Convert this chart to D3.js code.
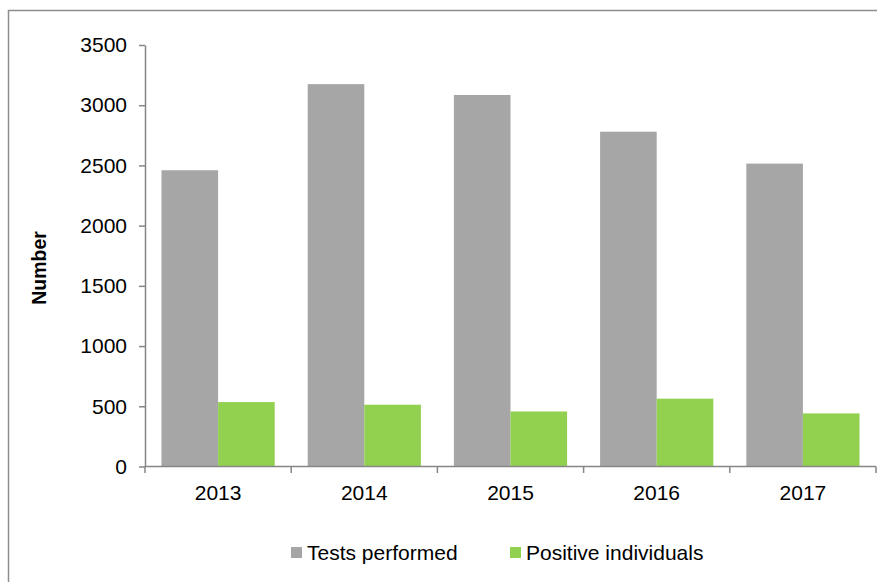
<!DOCTYPE html>
<html>
<head>
<meta charset="utf-8">
<script src="https://cdn.jsdelivr.net/npm/d3@7"></script>
<style>
  html, body { margin: 0; padding: 0; background: #fff; }
  svg { display: block; font-family: "Liberation Sans", Arial, sans-serif; }
</style>
</head>
<body>
<svg id="chart" width="877" height="582"></svg>
<script>
const years = ["2013", "2014", "2015", "2016", "2017"];
const seriesNames = ["Tests performed", "Positive individuals"];
const testsPerformed = [2460, 3175, 3085, 2780, 2515];
const positiveIndividuals = [535, 513, 457, 563, 441];
const yTicks = [0, 500, 1000, 1500, 2000, 2500, 3000, 3500];
const colors = ["#A6A6A6", "#92D050"];

const svg = d3.select("#chart");
const axisColor = "#868686";

// outer border
svg.append("rect")
  .attr("x", 8.5).attr("y", 10.5)
  .attr("width", 900).attr("height", 600)
  .attr("fill", "none").attr("stroke", "#8e8e8e").attr("stroke-width", 1.5);

const plotLeft = 145, plotRight = 876, plotTop = 45, plotBottom = 466.5;

const y = d3.scaleLinear().domain([0, 3500]).range([plotBottom, plotTop]);
const x = d3.scaleBand().domain(years).range([plotLeft, plotRight])
  .paddingInner(0.2257).paddingOuter(0.1128);
const xs = d3.scaleBand().domain(seriesNames).range([0, x.bandwidth()]);

const data = years.map((yr, i) => ({ yr, vals: [testsPerformed[i], positiveIndividuals[i]] }));

const g = svg.append("g");
g.selectAll("g.cat").data(data).join("g")
  .attr("class", "cat")
  .attr("transform", d => `translate(${x(d.yr)},0)`)
  .selectAll("rect").data(d => d.vals.map((v, j) => ({ v, s: seriesNames[j], j })))
  .join("rect")
  .attr("x", d => xs(d.s))
  .attr("y", d => y(d.v))
  .attr("width", xs.bandwidth())
  .attr("height", d => plotBottom - y(d.v))
  .attr("fill", d => colors[d.j]);

// Y axis
const yAxis = svg.append("g")
  .attr("transform", `translate(${plotLeft},0)`)
  .call(d3.axisLeft(y).tickValues(yTicks).tickSize(6).tickPadding(12).tickSizeOuter(0).tickFormat(d3.format("d")));
yAxis.select(".domain").attr("stroke", axisColor).attr("stroke-width", 1.5);
yAxis.selectAll(".tick line").attr("stroke", axisColor).attr("stroke-width", 1.5);
yAxis.selectAll(".tick text").attr("font-size", "21px").attr("fill", "#000")
  .attr("font-family", "'Liberation Sans', Arial, sans-serif");

// X axis: line with ticks at category boundaries
const step = x.step();
const boundaries = d3.range(years.length + 1).map(i => x(years[0]) - x.paddingOuter() * step + i * step);
svg.append("line")
  .attr("x1", plotLeft).attr("x2", plotRight).attr("y1", plotBottom).attr("y2", plotBottom)
  .attr("stroke", axisColor).attr("stroke-width", 1.5);
svg.selectAll("line.xtick").data(boundaries).join("line")
  .attr("class", "xtick")
  .attr("x1", d => d).attr("x2", d => d)
  .attr("y1", plotBottom).attr("y2", plotBottom + 6.5)
  .attr("stroke", axisColor).attr("stroke-width", 1.5);
svg.selectAll("text.xlab").data(years).join("text")
  .attr("class", "xlab")
  .attr("x", d => x(d) + x.bandwidth() / 2)
  .attr("y", 500)
  .attr("text-anchor", "middle")
  .attr("font-size", "21px")
  .attr("fill", "#000")
  .text(d => d);

// Y axis title
svg.append("text")
  .attr("transform", "translate(46,268) rotate(-90)")
  .attr("text-anchor", "middle")
  .attr("font-size", "19.5px")
  .attr("font-weight", "bold")
  .attr("fill", "#000")
  .text("Number");

// Legend
const legendX = [291, 510];
const lg = svg.selectAll("g.leg").data(seriesNames).join("g")
  .attr("class", "leg")
  .attr("transform", (d, i) => `translate(${legendX[i]},547)`);
lg.append("rect").attr("width", 11).attr("height", 11).attr("fill", (d, i) => colors[i]);
lg.append("text").attr("x", 16).attr("y", 13).attr("font-size", "21px").attr("fill", "#000").text(d => d);
</script>
</body>
</html>
